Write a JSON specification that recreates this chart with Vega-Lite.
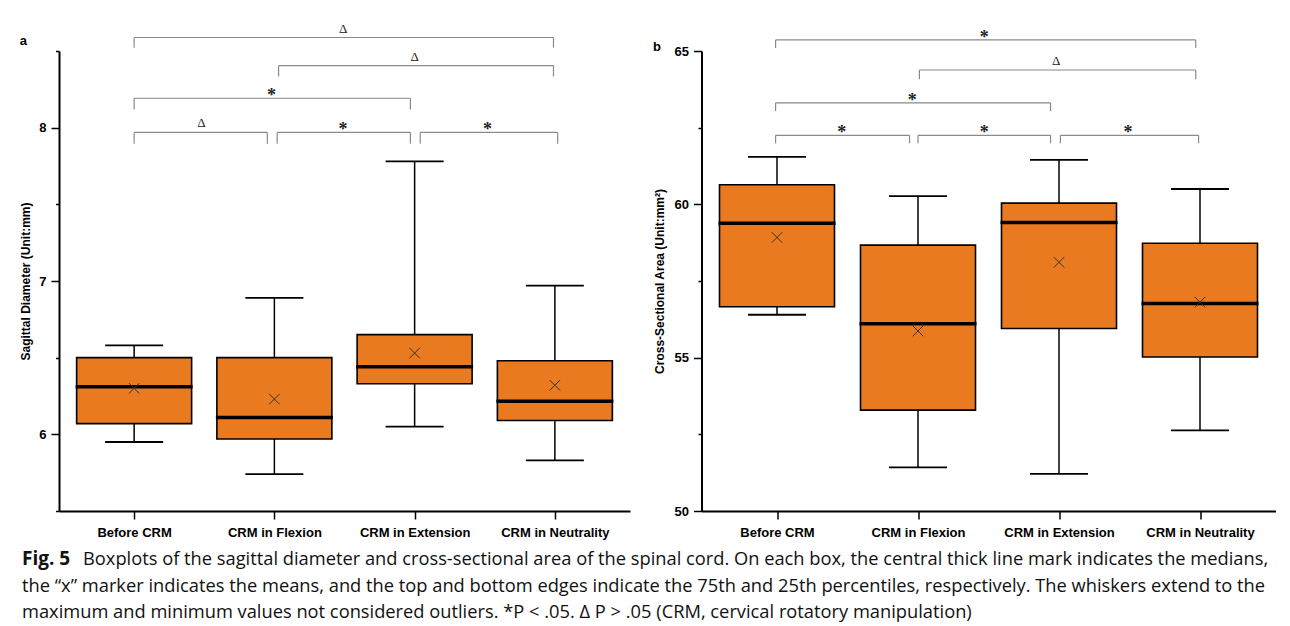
{
  "$schema": "https://vega.github.io/schema/vega-lite/v6.json",
  "padding": {"left": 19, "top": 22, "right": 5, "bottom": 0},
  "config": {
    "view": {"stroke": null},
    "font": "Liberation Sans",
    "axis": {"domainColor": "black", "domainWidth": 2, "tickColor": "black", "tickWidth": 1.5, "labelFont": "Liberation Sans", "labelFontWeight": "bold", "labelFontSize": 13, "labelColor": "black", "titleFont": "Liberation Sans", "titleFontWeight": "bold", "titleFontSize": 12, "titleColor": "black", "grid": false, "labelOverlap": false}
  },
  "datasets": {
    "boxA": [
      {"group": "Before CRM", "pos": 1, "min": 5.95, "q1": 6.07, "median": 6.31, "q3": 6.50, "max": 6.58, "mean": 6.30},
      {"group": "CRM in Flexion", "pos": 2, "min": 5.74, "q1": 5.97, "median": 6.11, "q3": 6.50, "max": 6.89, "mean": 6.23},
      {"group": "CRM in Extension", "pos": 3, "min": 6.05, "q1": 6.33, "median": 6.44, "q3": 6.65, "max": 7.78, "mean": 6.53},
      {"group": "CRM in Neutrality", "pos": 4, "min": 5.83, "q1": 6.09, "median": 6.215, "q3": 6.48, "max": 6.97, "mean": 6.32}
    ],
    "boxB": [
      {"group": "Before CRM", "pos": 1, "min": 56.4, "q1": 56.66, "median": 59.38, "q3": 60.64, "max": 61.55, "mean": 58.92},
      {"group": "CRM in Flexion", "pos": 2, "min": 51.42, "q1": 53.29, "median": 56.11, "q3": 58.67, "max": 60.27, "mean": 55.87},
      {"group": "CRM in Extension", "pos": 3, "min": 51.21, "q1": 55.95, "median": 59.41, "q3": 60.04, "max": 61.45, "mean": 58.11},
      {"group": "CRM in Neutrality", "pos": 4, "min": 52.63, "q1": 55.02, "median": 56.77, "q3": 58.73, "max": 60.5, "mean": 56.81}
    ],
    "brA": [
      {"x1": 1.0, "x2": 3.99, "mid": 2.49, "top": 8.588, "bot": 8.522, "label": "Δ"},
      {"x1": 2.03, "x2": 3.99, "mid": 3.0, "top": 8.405, "bot": 8.334, "label": "Δ"},
      {"x1": 1.0, "x2": 2.97, "mid": 1.98, "top": 8.192, "bot": 8.118, "label": "*"},
      {"x1": 1.0, "x2": 1.95, "mid": 1.48, "top": 7.969, "bot": 7.895, "label": "Δ"},
      {"x1": 2.02, "x2": 2.97, "mid": 2.49, "top": 7.969, "bot": 7.895, "label": "*"},
      {"x1": 3.04, "x2": 4.02, "mid": 3.52, "top": 7.969, "bot": 7.895, "label": "*"}
    ],
    "brB": [
      {"x1": 0.99, "x2": 3.97, "mid": 2.47, "top": 65.36, "bot": 65.1, "label": "*"},
      {"x1": 2.01, "x2": 3.97, "mid": 2.98, "top": 64.38, "bot": 64.08, "label": "Δ"},
      {"x1": 0.99, "x2": 2.94, "mid": 1.96, "top": 63.31, "bot": 63.04, "label": "*"},
      {"x1": 0.99, "x2": 1.94, "mid": 1.46, "top": 62.25, "bot": 61.99, "label": "*"},
      {"x1": 2.0, "x2": 2.94, "mid": 2.47, "top": 62.25, "bot": 61.99, "label": "*"},
      {"x1": 3.01, "x2": 3.99, "mid": 3.49, "top": 62.25, "bot": 61.99, "label": "*"}
    ],
    "caption": [
      {"line": 1, "part": "label", "text": "Fig. 5"},
      {"line": 1, "part": "first", "text": "Boxplots of the sagittal diameter and cross-sectional area of the spinal cord. On each box, the central thick line mark indicates the medians,"},
      {"line": 2, "part": "body", "text": "the “x” marker indicates the means, and the top and bottom edges indicate the 75th and 25th percentiles, respectively. The whiskers extend to the"},
      {"line": 3, "part": "body", "text": "maximum and minimum values not considered outliers. *P < .05. Δ P > .05 (CRM, cervical rotatory manipulation)"}
    ]
  },
  "concat": [
    {
      "spacing": 22.5,
      "hconcat": [
        {
          "width": 571,
          "height": 460,
          "title": {"text": "a", "anchor": "start", "frame": "bounds", "fontSize": 13, "fontWeight": "bold", "font": "Liberation Sans", "offset": 0, "dy": 25},
          "layer": [
            {
              "data": {"name": "boxA"},
              "mark": {"type": "rule", "color": "black", "strokeWidth": 1.5},
              "encoding": {
                "x": {"field": "pos", "type": "quantitative", "title": null, "scale": {"domain": [0.5, 4.5], "nice": false, "zero": false},
                  "axis": {"values": [1, 2, 3, 4], "labelExpr": "['', 'Before CRM', 'CRM in Flexion', 'CRM in Extension', 'CRM in Neutrality'][datum.value]", "tickSize": 8, "labelPadding": 7, "labelFontSize": 13}},
                "y": {"field": "min", "type": "quantitative", "title": "Sagittal Diameter (Unit:mm)", "scale": {"domain": [5.5, 8.5], "nice": false, "zero": false},
                  "axis": {"values": [5.5, 6, 6.5, 7, 7.5, 8, 8.5], "labelExpr": "datum.value % 1 === 0 ? '' + datum.value : ''", "tickSize": {"condition": {"test": "datum.value % 1 !== 0", "value": 3.5}, "value": 8}, "labelPadding": 5, "titlePadding": 6}},
                "y2": {"field": "max"}
              }
            },
            {
              "data": {"name": "boxA"},
              "mark": {"type": "tick", "orient": "horizontal", "color": "black", "size": 58, "thickness": 1.8, "opacity": 1},
              "encoding": {
                "x": {"field": "pos", "type": "quantitative", "title": null},
                "y": {"field": "max", "type": "quantitative", "title": "Sagittal Diameter (Unit:mm)"}
              }
            },
            {
              "data": {"name": "boxA"},
              "mark": {"type": "tick", "orient": "horizontal", "color": "black", "size": 58, "thickness": 1.8, "opacity": 1},
              "encoding": {
                "x": {"field": "pos", "type": "quantitative", "title": null},
                "y": {"field": "min", "type": "quantitative", "title": "Sagittal Diameter (Unit:mm)"}
              }
            },
            {
              "data": {"name": "boxA"},
              "mark": {"type": "bar", "size": 115, "fill": "#ea7a1f", "stroke": "black", "strokeWidth": 1.6, "opacity": 1},
              "encoding": {
                "x": {"field": "pos", "type": "quantitative", "title": null},
                "y": {"field": "q1", "type": "quantitative", "title": "Sagittal Diameter (Unit:mm)"},
                "y2": {"field": "q3"}
              }
            },
            {
              "data": {"name": "boxA"},
              "mark": {"type": "tick", "orient": "horizontal", "color": "black", "size": 117, "thickness": 3.5, "opacity": 1},
              "encoding": {
                "x": {"field": "pos", "type": "quantitative", "title": null},
                "y": {"field": "median", "type": "quantitative", "title": "Sagittal Diameter (Unit:mm)"}
              }
            },
            {
              "data": {"name": "boxA"},
              "mark": {"type": "point", "shape": "M-1,-1L1,1M-1,1L1,-1", "size": 110, "filled": false, "stroke": "#333333", "strokeWidth": 1, "opacity": 1},
              "encoding": {
                "x": {"field": "pos", "type": "quantitative", "title": null},
                "y": {"field": "mean", "type": "quantitative", "title": "Sagittal Diameter (Unit:mm)"}
              }
            },
            {
              "data": {"name": "brA"},
              "mark": {"type": "rule", "color": "#8a8a8a", "strokeWidth": 1.2},
              "encoding": {
                "x": {"field": "x1", "type": "quantitative", "title": null},
                "x2": {"field": "x2"},
                "y": {"field": "top", "type": "quantitative", "title": "Sagittal Diameter (Unit:mm)"}
              }
            },
            {
              "data": {"name": "brA"},
              "mark": {"type": "rule", "color": "#8a8a8a", "strokeWidth": 1.2},
              "encoding": {
                "x": {"field": "x1", "type": "quantitative", "title": null},
                "y": {"field": "top", "type": "quantitative", "title": "Sagittal Diameter (Unit:mm)"},
                "y2": {"field": "bot"}
              }
            },
            {
              "data": {"name": "brA"},
              "mark": {"type": "rule", "color": "#8a8a8a", "strokeWidth": 1.2},
              "encoding": {
                "x": {"field": "x2", "type": "quantitative", "title": null},
                "y": {"field": "top", "type": "quantitative", "title": "Sagittal Diameter (Unit:mm)"},
                "y2": {"field": "bot"}
              }
            },
            {
              "data": {"name": "brA"},
              "transform": [{"filter": "datum.label === 'Δ'"}],
              "mark": {"type": "text", "font": "Liberation Serif", "fontSize": 13, "baseline": "alphabetic", "dy": -5, "color": "#222222"},
              "encoding": {
                "x": {"field": "mid", "type": "quantitative", "title": null},
                "y": {"field": "top", "type": "quantitative", "title": "Sagittal Diameter (Unit:mm)"},
                "text": {"field": "label"}
              }
            },
            {
              "data": {"name": "brA"},
              "transform": [{"filter": "datum.label === '*'"}],
              "mark": {"type": "text", "font": "Liberation Serif", "fontSize": 18, "fontWeight": "bold", "baseline": "alphabetic", "dy": 3, "color": "#222222"},
              "encoding": {
                "x": {"field": "mid", "type": "quantitative", "title": null},
                "y": {"field": "top", "type": "quantitative", "title": "Sagittal Diameter (Unit:mm)"},
                "text": {"field": "label"}
              }
            }
          ]
        },
        {
          "width": 574,
          "height": 460,
          "title": {"text": "b", "anchor": "start", "frame": "bounds", "fontSize": 13, "fontWeight": "bold", "font": "Liberation Sans", "offset": 0, "dy": 25},
          "layer": [
            {
              "data": {"name": "boxB"},
              "mark": {"type": "rule", "color": "black", "strokeWidth": 1.5},
              "encoding": {
                "x": {"field": "pos", "type": "quantitative", "title": null, "scale": {"domain": [0.5, 4.5], "nice": false, "zero": false},
                  "axis": {"values": [1, 2, 3, 4], "labelExpr": "['', 'Before CRM', 'CRM in Flexion', 'CRM in Extension', 'CRM in Neutrality'][datum.value]", "tickSize": 8, "labelPadding": 7, "labelFontSize": 13}},
                "y": {"field": "min", "type": "quantitative", "title": "Cross-Sectional Area (Unit:mm²)", "scale": {"domain": [50, 65], "nice": false, "zero": false},
                  "axis": {"values": [50, 52.5, 55, 57.5, 60, 62.5, 65], "labelExpr": "datum.value % 5 === 0 ? '' + datum.value : ''", "tickSize": {"condition": {"test": "datum.value % 5 !== 0", "value": 3.5}, "value": 8}, "labelPadding": 5, "titlePadding": 8}},
                "y2": {"field": "max"}
              }
            },
            {
              "data": {"name": "boxB"},
              "mark": {"type": "tick", "orient": "horizontal", "color": "black", "size": 58, "thickness": 1.8, "opacity": 1},
              "encoding": {
                "x": {"field": "pos", "type": "quantitative", "title": null},
                "y": {"field": "max", "type": "quantitative", "title": "Cross-Sectional Area (Unit:mm²)"}
              }
            },
            {
              "data": {"name": "boxB"},
              "mark": {"type": "tick", "orient": "horizontal", "color": "black", "size": 58, "thickness": 1.8, "opacity": 1},
              "encoding": {
                "x": {"field": "pos", "type": "quantitative", "title": null},
                "y": {"field": "min", "type": "quantitative", "title": "Cross-Sectional Area (Unit:mm²)"}
              }
            },
            {
              "data": {"name": "boxB"},
              "mark": {"type": "bar", "size": 115, "fill": "#ea7a1f", "stroke": "black", "strokeWidth": 1.6, "opacity": 1},
              "encoding": {
                "x": {"field": "pos", "type": "quantitative", "title": null},
                "y": {"field": "q1", "type": "quantitative", "title": "Cross-Sectional Area (Unit:mm²)"},
                "y2": {"field": "q3"}
              }
            },
            {
              "data": {"name": "boxB"},
              "mark": {"type": "tick", "orient": "horizontal", "color": "black", "size": 117, "thickness": 3.5, "opacity": 1},
              "encoding": {
                "x": {"field": "pos", "type": "quantitative", "title": null},
                "y": {"field": "median", "type": "quantitative", "title": "Cross-Sectional Area (Unit:mm²)"}
              }
            },
            {
              "data": {"name": "boxB"},
              "mark": {"type": "point", "shape": "M-1,-1L1,1M-1,1L1,-1", "size": 110, "filled": false, "stroke": "#333333", "strokeWidth": 1, "opacity": 1},
              "encoding": {
                "x": {"field": "pos", "type": "quantitative", "title": null},
                "y": {"field": "mean", "type": "quantitative", "title": "Cross-Sectional Area (Unit:mm²)"}
              }
            },
            {
              "data": {"name": "brB"},
              "mark": {"type": "rule", "color": "#8a8a8a", "strokeWidth": 1.2},
              "encoding": {
                "x": {"field": "x1", "type": "quantitative", "title": null},
                "x2": {"field": "x2"},
                "y": {"field": "top", "type": "quantitative", "title": "Cross-Sectional Area (Unit:mm²)"}
              }
            },
            {
              "data": {"name": "brB"},
              "mark": {"type": "rule", "color": "#8a8a8a", "strokeWidth": 1.2},
              "encoding": {
                "x": {"field": "x1", "type": "quantitative", "title": null},
                "y": {"field": "top", "type": "quantitative", "title": "Cross-Sectional Area (Unit:mm²)"},
                "y2": {"field": "bot"}
              }
            },
            {
              "data": {"name": "brB"},
              "mark": {"type": "rule", "color": "#8a8a8a", "strokeWidth": 1.2},
              "encoding": {
                "x": {"field": "x2", "type": "quantitative", "title": null},
                "y": {"field": "top", "type": "quantitative", "title": "Cross-Sectional Area (Unit:mm²)"},
                "y2": {"field": "bot"}
              }
            },
            {
              "data": {"name": "brB"},
              "transform": [{"filter": "datum.label === 'Δ'"}],
              "mark": {"type": "text", "font": "Liberation Serif", "fontSize": 13, "baseline": "alphabetic", "dy": -5, "color": "#222222"},
              "encoding": {
                "x": {"field": "mid", "type": "quantitative", "title": null},
                "y": {"field": "top", "type": "quantitative", "title": "Cross-Sectional Area (Unit:mm²)"},
                "text": {"field": "label"}
              }
            },
            {
              "data": {"name": "brB"},
              "transform": [{"filter": "datum.label === '*'"}],
              "mark": {"type": "text", "font": "Liberation Serif", "fontSize": 18, "fontWeight": "bold", "baseline": "alphabetic", "dy": 3, "color": "#222222"},
              "encoding": {
                "x": {"field": "mid", "type": "quantitative", "title": null},
                "y": {"field": "top", "type": "quantitative", "title": "Cross-Sectional Area (Unit:mm²)"},
                "text": {"field": "label"}
              }
            }
          ]
        }
      ]
    },
    {
      "width": 1180,
      "height": 79,
      "data": {"name": "caption"},
      "encoding": {
        "y": {"field": "line", "type": "ordinal", "axis": null},
        "x": {"value": 0},
        "text": {"field": "text"}
      },
      "layer": [
        {
          "transform": [{"filter": "datum.part === 'label'"}],
          "mark": {"type": "text", "align": "left", "baseline": "alphabetic", "font": "Open Sans", "fontSize": 19, "fontWeight": "bold", "dx": -37, "color": "#111111"}
        },
        {
          "transform": [{"filter": "datum.part === 'first'"}],
          "mark": {"type": "text", "align": "left", "baseline": "alphabetic", "font": "Open Sans", "fontSize": 18.3, "dx": 24, "color": "#111111"}
        },
        {
          "transform": [{"filter": "datum.part === 'body'"}],
          "mark": {"type": "text", "align": "left", "baseline": "alphabetic", "font": "Open Sans", "fontSize": 18.3, "dx": -37, "color": "#111111"}
        }
      ]
    }
  ],
  "columns": 1,
  "spacing": 11
}
